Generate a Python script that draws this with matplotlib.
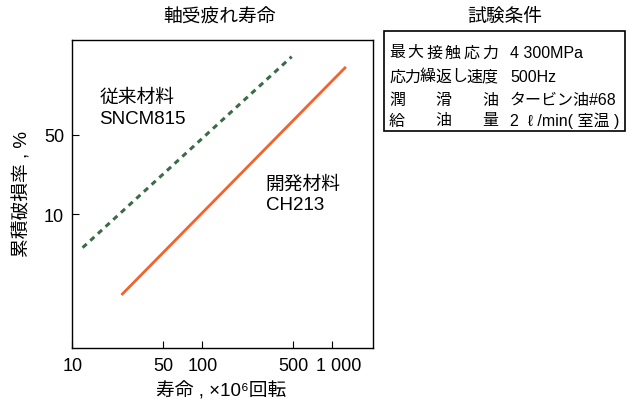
import matplotlib
matplotlib.use("Agg")
import matplotlib.pyplot as plt
import matplotlib.transforms as mtrans
from matplotlib.patches import Rectangle
from matplotlib.ticker import FixedLocator, FixedFormatter, NullLocator

plt.rcParams['font.family'] = ['Liberation Sans', 'Noto Sans CJK JP', 'DejaVu Sans']

# data (life x10^6 rev, cumulative failure %)
old_life = [12.0, 487]
old_fail = [5.1, 242]
new_life = [24.3, 1250]
new_fail = [2.0, 193]

xticks = [10, 50, 100, 500, 1000]
xlabels = ['10', '50', '100', '500', '1 000']
yticks = [10, 50]
ylabels = ['10', '50']

cond_names = ['最大接触応力', '応力繰返し速度', '潤滑油', '給油量']
cond_values = ['4 300MPa', '500Hz', 'タービン油#68', '2  ℓ /min( 室温 )']

W, H = 627, 402
fig = plt.figure(figsize=(W / 100, H / 100), dpi=100)

def fx(px):
    return px / W

def fy(py):
    return 1 - py / H

ax = fig.add_axes([fx(72.3), fy(349.3), fx(373.3) - fx(72.3), fy(41) - fy(349.3)])
ax.set_xscale('log')
ax.set_yscale('log')
ax.set_xlim(10, 2066)
ax.set_ylim(0.667, 339)

ax.plot(old_life, old_fail, color='#3b6b48', lw=2.2, ls=(0, (1.8, 1.6)))
ax.plot(new_life, new_fail, color='#f5632b', lw=2.0)

ax.xaxis.set_major_locator(FixedLocator(xticks))
ax.xaxis.set_major_formatter(FixedFormatter(xlabels))
ax.xaxis.set_minor_locator(NullLocator())
ax.yaxis.set_major_locator(FixedLocator(yticks))
ax.yaxis.set_major_formatter(FixedFormatter(ylabels))
ax.yaxis.set_minor_locator(NullLocator())
ax.tick_params(direction='in', length=5, width=0.8, labelsize=13, pad=6)
for s in ax.spines.values():
    s.set_linewidth(1.0)

# nudge the last x label so it clears "500"
fig.canvas.draw()
last = ax.get_xticklabels()[-1]
last.set_transform(last.get_transform() +
                   mtrans.ScaledTranslation(6 / 100, 0, fig.dpi_scale_trans))

ax.text(0.09, 0.78, '従来材料\nSNCM815', transform=ax.transAxes, fontsize=13.5,
        va='center', ha='left', linespacing=1.25)
ax.text(0.643, 0.50, '開発材料\nCH213', transform=ax.transAxes, fontsize=13.5,
        va='center', ha='left', linespacing=1.25)

fig.text(fx(220), fy(18), '軸受疲れ寿命', fontsize=13.5, ha='center', va='center')
fig.text(fx(221), fy(391), '寿命 , ×10⁶回転', fontsize=13.5, ha='center', va='center')
fig.text(fx(22), fy(194), '累積破損率 , %', fontsize=13.5, ha='center', va='center',
         rotation=90)

# test conditions box
fig.text(fx(505), fy(17), '試験条件', fontsize=13.5, ha='center', va='center')
fig.add_artist(Rectangle((fx(384), fy(132)), fx(625) - fx(384), fy(32) - fy(132),
                         transform=fig.transFigure, fill=False, lw=1.2, ec='black'))
row_y = [53, 77, 100, 121]
c0, c1 = 397, 490
for name, val, yy in zip(cond_names, cond_values, row_y):
    n = len(name)
    for i, ch in enumerate(name):
        cx = c0 + (c1 - c0) * i / (n - 1)
        fig.text(fx(cx), fy(yy), ch, fontsize=11.5, ha='center', va='center')
    fig.text(fx(510), fy(yy), val, fontsize=11.5, ha='left', va='center')

fig.savefig('out.png', dpi=100)
